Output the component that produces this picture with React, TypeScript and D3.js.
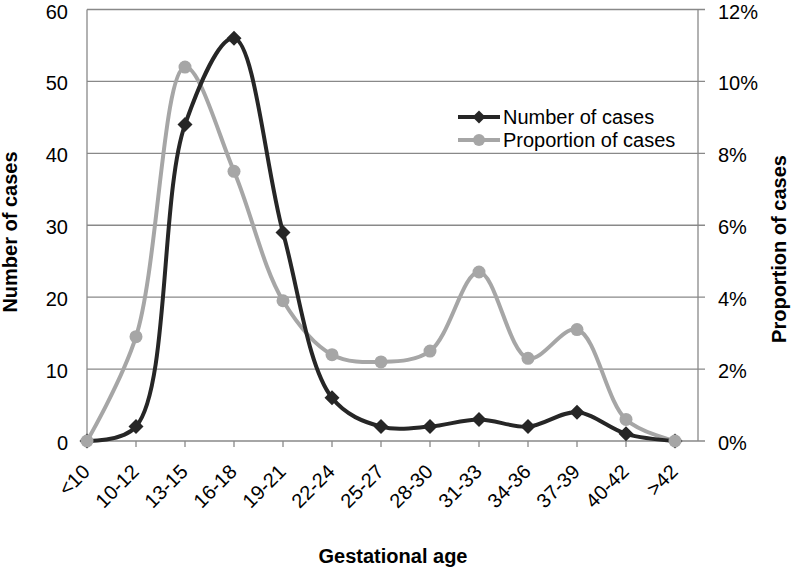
import React from "react";
import * as d3 from "d3";

const categories = ["<10", "10-12", "13-15", "16-18", "19-21", "22-24", "25-27", "28-30", "31-33", "34-36", "37-39", "40-42", ">42"];
const numberOfCases = [0, 2, 44, 56, 29, 6, 2, 2, 3, 2, 4, 1, 0];
const proportionOfCases = [0, 2.9, 10.4, 7.5, 3.9, 2.4, 2.2, 2.5, 4.7, 2.3, 3.1, 0.6, 0];
const leftTicks = [0, 10, 20, 30, 40, 50, 60];
const rightTicks = [0, 2, 4, 6, 8, 10, 12];
const seriesNames = ["Number of cases", "Proportion of cases"];

const W = 794;
const H = 571;
const plotLeft = 87;
const plotRight = 698;
const plotTop = 9.5;
const plotBottom = 441;
const font = "Liberation Sans, Arial, sans-serif";
const gridColor = "#898989";
const darkColor = "#262626";
const lightColor = "#a6a6a6";

export default function App() {
  const x = d3.scalePoint<string>().domain(categories).range([plotLeft, 675]);
  const yL = d3.scaleLinear().domain([0, 60]).range([plotBottom, plotTop]);
  const yR = d3.scaleLinear().domain([0, 12]).range([plotBottom, plotTop]);

  const curve = d3.curveCatmullRom.alpha(0.5);
  const lineN = d3
    .line<number>()
    .x((_, i) => x(categories[i]) as number)
    .y((d) => yL(d))
    .curve(curve);
  const lineP = d3
    .line<number>()
    .x((_, i) => x(categories[i]) as number)
    .y((d) => yR(d))
    .curve(curve);

  const diamond = (cx: number, cy: number, r = 7.5) =>
    `M${cx},${cy - r}L${cx + r},${cy}L${cx},${cy + r}L${cx - r},${cy}Z`;

  return (
    <svg
      width={W}
      height={H}
      style={{ position: "absolute", left: 0, top: 0, background: "#fff" }}
      fontFamily={font}
    >
      <rect x={0} y={0} width={W} height={H} fill="#fff" />
      {/* gridlines */}
      {leftTicks.map((t) => (
        <line key={"g" + t} x1={plotLeft} x2={plotRight + 7} y1={yL(t)} y2={yL(t)} stroke={gridColor} strokeWidth={1.3} />
      ))}
      {/* axes */}
      <line x1={plotLeft} x2={plotLeft} y1={plotTop} y2={plotBottom} stroke={gridColor} strokeWidth={1.3} />
      <line x1={plotRight} x2={plotRight} y1={plotTop} y2={plotBottom} stroke={gridColor} strokeWidth={1.3} />
      {categories.slice(1).map((c) => (
        <line key={"xt" + c} x1={x(c)} x2={x(c)} y1={plotBottom} y2={plotBottom + 6} stroke={gridColor} strokeWidth={1.3} />
      ))}
      {/* left tick labels */}
      {leftTicks.map((t) => (
        <text key={"lt" + t} x={68} y={yL(t) + 9} fontSize={20} textAnchor="end" fill="#000">
          {t}
        </text>
      ))}
      {rightTicks.map((t) => (
        <text key={"rt" + t} x={718} y={yR(t) + 9} fontSize={20} textAnchor="start" fill="#000">
          {t + "%"}
        </text>
      ))}
      {/* x tick labels */}
      {categories.map((c) => (
        <text
          key={"xl" + c}
          transform={`translate(${(x(c) as number) + 4},${473}) rotate(-45)`}
          fontSize={20}
          textAnchor="end"
          fill="#000"
        >
          {c}
        </text>
      ))}
      {/* axis titles */}
      <text x={393} y={563} fontSize={20} fontWeight="bold" textAnchor="middle">
        Gestational age
      </text>
      <text transform={`translate(17,232) rotate(-90)`} fontSize={20} fontWeight="bold" textAnchor="middle">
        Number of cases
      </text>
      <text transform={`translate(786,249) rotate(-90)`} fontSize={20} fontWeight="bold" textAnchor="middle">
        Proportion of cases
      </text>
      {/* lines */}
      <path d={lineP(proportionOfCases) || ""} fill="none" stroke={lightColor} strokeWidth={4} />
      <path d={lineN(numberOfCases) || ""} fill="none" stroke={darkColor} strokeWidth={4} />
      {numberOfCases.map((v, i) => (
        <path key={"dn" + i} d={diamond(x(categories[i]) as number, yL(v))} fill={darkColor} />
      ))}
      {proportionOfCases.map((v, i) => (
        <circle key={"cp" + i} cx={x(categories[i])} cy={yR(v)} r={6.5} fill={lightColor} />
      ))}
      {/* legend */}
      <g>
        <line x1={458} x2={500} y1={117} y2={117} stroke={darkColor} strokeWidth={4} />
        <path d={diamond(479, 117, 6.5)} fill={darkColor} />
        <text x={503} y={124} fontSize={20}>{seriesNames[0]}</text>
        <line x1={458} x2={500} y1={140} y2={140} stroke={lightColor} strokeWidth={4} />
        <circle cx={479} cy={140} r={6} fill={lightColor} />
        <text x={503} y={147} fontSize={20}>{seriesNames[1]}</text>
      </g>
    </svg>
  );
}
